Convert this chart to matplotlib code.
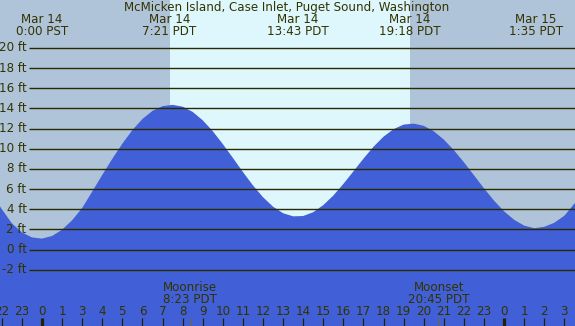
import matplotlib
matplotlib.use("Agg")
import matplotlib.pyplot as plt

# ---- data ----
title = "McMicken Island, Case Inlet, Puget Sound, Washington"
# elapsed hours since Mar 14 0:00 PST
tide_hours = [-2.5, -2.0, -1.5, -1.0, -0.5, 0.0, 0.5, 1.0, 1.5, 2.0, 2.5, 3.0, 3.5, 4.0,
              4.5, 5.0, 5.5, 6.0, 6.5, 7.0, 7.5, 8.0, 8.5, 9.0, 9.5, 10.0, 10.5, 11.0,
              11.5, 12.0, 12.5, 13.0, 13.5, 14.0, 14.5, 15.0, 15.5, 16.0, 16.5, 17.0,
              17.5, 18.0, 18.5, 19.0, 19.5, 20.0, 20.5, 21.0, 21.5, 22.0, 22.5, 23.0,
              23.5, 24.0, 24.5, 25.0, 25.5, 26.0, 26.5, 27.0]
tide_ft = [5.5, 4.0, 2.6, 1.7, 1.2, 1.08, 1.34, 1.96, 2.9, 4.12, 5.75, 7.4, 9.0, 10.5,
           11.85, 12.95, 13.75, 14.22, 14.35, 14.17, 13.65, 12.82, 11.74, 10.46, 9.09,
           7.69, 6.36, 5.19, 4.25, 3.6, 3.29, 3.32, 3.7, 4.4, 5.35, 6.5, 7.75, 9.01,
           10.19, 11.19, 11.94, 12.39, 12.49, 12.27, 11.73, 10.91, 9.86, 8.66, 7.37,
           6.07, 4.85, 3.79, 2.95, 2.37, 2.11, 2.25, 2.65, 3.35, 4.55, 5.9]

ft_levels = [-2, 0, 2, 4, 6, 8, 10, 12, 14, 16, 18, 20]
ft_labels = ["-2 ft", "0 ft", "2 ft", "4 ft", "6 ft", "8 ft", "10 ft", "12 ft",
             "14 ft", "16 ft", "18 ft", "20 ft"]

tick_hours = list(range(-2, 27))
hour_labels = ["22", "23", "0", "1", "3", "4", "5", "6", "7", "8", "9", "10", "11", "12",
               "13", "14", "15", "16", "17", "18", "19", "20", "21", "22", "23", "0",
               "1", "2", "3"]
midnight_hours = [0, 23]

event_hours = [0.0, 6.35, 12.717, 18.3, 24.583]
event_dates = ["Mar 14", "Mar 14", "Mar 14", "Mar 14", "Mar 15"]
event_times = ["0:00 PST", "7:21 PDT", "13:43 PDT", "19:18 PDT", "1:35 PDT"]

sunrise_hour = 6.35
sunset_hour = 18.3

moon_hours = [7.383, 19.75]
moon_names = ["Moonrise", "Moonset"]
moon_times = ["8:23 PDT", "20:45 PDT"]

# ---- styling ----
W, H = 575, 326
px_per_hr = 20.09
x0_px = 42.0
px_per_ft = 10.08
y0_px = 249.5

NIGHT = "#b0c4d9"
DAY = "#ddf7fd"
WATER = "#415fd6"
TXT = "#333300"
GRID = "#2a2a00"
FS = 8.6

fig = plt.figure(figsize=(W / 100, H / 100), dpi=100)
ax = fig.add_axes([0, 0, 1, 1])
xmin = -x0_px / px_per_hr
xmax = (W - x0_px) / px_per_hr
ymax = y0_px / px_per_ft
ymin = (y0_px - H) / px_per_ft
ax.set_xlim(xmin, xmax)
ax.set_ylim(ymin, ymax)
ax.axis("off")
ax.set_facecolor(NIGHT)
ax.axvspan(xmin, xmax, color=NIGHT, zorder=0, lw=0)
ax.axvspan(sunrise_hour, sunset_hour, color=DAY, zorder=0.5, lw=0)

ax.fill_between(tide_hours, tide_ft, ymin - 5, color=WATER, lw=0, zorder=1)

grid_x0 = (29 - x0_px) / px_per_hr
ax.hlines(ft_levels, grid_x0, xmax, colors=GRID, lw=1.0, zorder=2)
for lv, lb in zip(ft_levels, ft_labels):
    ax.text(grid_x0 - 0.12, lv, lb, ha="right", va="center", fontsize=FS, color=TXT, zorder=3)

# hour ticks
def py(px):
    return (y0_px - px) / px_per_ft

for h, lb in zip(tick_hours, hour_labels):
    ax.text(h, py(311.5), lb, ha="center", va="center", fontsize=FS, color=TXT, zorder=3)
    lw = 2.3 if h in midnight_hours else 0.9
    ax.vlines(h, py(326.5), py(318), colors="#222200", lw=lw, zorder=3)

for h, nm, tm in zip(moon_hours, moon_names, moon_times):
    ax.vlines(h, py(326.5), py(318), colors="#6b6a3a", lw=0.9, zorder=3)
    ax.text(h, py(287.5), nm, ha="center", va="center", fontsize=FS, color=TXT, zorder=3)
    ax.text(h, py(299.5), tm, ha="center", va="center", fontsize=FS, color=TXT, zorder=3)

for h, d, t in zip(event_hours, event_dates, event_times):
    ax.text(h, py(19.5), d, ha="center", va="center", fontsize=FS, color=TXT, zorder=3)
    ax.text(h, py(31.5), t, ha="center", va="center", fontsize=FS, color=TXT, zorder=3)

fig.text(287 / W, 1 - 7.5 / H, title, ha="center", va="center", fontsize=FS, color=TXT)

fig.savefig("out.png", dpi=100)
